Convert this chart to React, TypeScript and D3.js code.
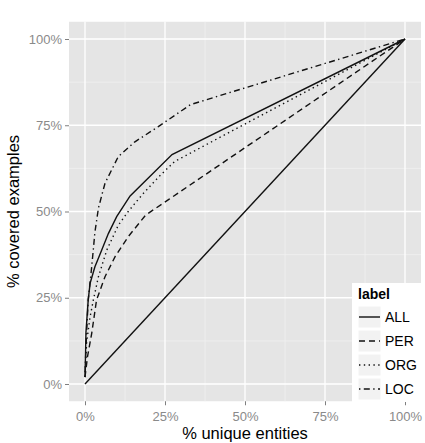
import * as React from 'react'
import { useEffect, useRef } from 'react'
import * as d3 from 'd3'

// series (x = share of unique entities, y = share of covered examples)
const labels = ['ALL', 'PER', 'ORG', 'LOC']

const allX = [0, 0.003, 0.01, 0.016, 0.031, 0.052, 0.073, 0.099, 0.141, 0.272, 1]
const allY = [0.02, 0.15, 0.243, 0.292, 0.34, 0.388, 0.436, 0.485, 0.545, 0.665, 1]

const perX = [0, 0.008, 0.021, 0.036, 0.0625, 0.094, 0.135, 0.19, 0.262, 1]
const perY = [0.02, 0.08, 0.147, 0.243, 0.311, 0.369, 0.427, 0.49, 0.535, 1]

const orgX = [0, 0.005, 0.016, 0.026, 0.042, 0.068, 0.104, 0.135, 0.18, 0.23, 0.28, 1]
const orgY = [0.02, 0.12, 0.195, 0.243, 0.311, 0.388, 0.46, 0.5, 0.55, 0.6, 0.645, 1]

const locX = [0, 0.002, 0.005, 0.01, 0.021, 0.031, 0.042, 0.0625, 0.104, 0.156, 0.229, 0.33, 1]
const locY = [0.02, 0.08, 0.147, 0.243, 0.34, 0.44, 0.51, 0.582, 0.659, 0.702, 0.746, 0.81, 1]

const diagX = [0, 1]
const diagY = [0, 1]

const tickValues = [0, 0.25, 0.5, 0.75, 1]

const FONT = 'Liberation Sans, Arial, sans-serif'

const App = () => {
    const chartRef = useRef<SVGSVGElement>(null)
    const width = 425
    const height = 443

    useEffect(() => {
        const svg = d3.select(chartRef.current)
        svg.selectAll('*').remove()

        const panel = { left: 69, right: 421, top: 21.75, bottom: 401.25 }

        const xScale = d3.scaleLinear().domain([-0.05, 1.05]).range([panel.left, panel.right])
        const yScale = d3.scaleLinear().domain([-0.05, 1.05]).range([panel.bottom, panel.top])

        svg.append('rect')
            .attr('x', panel.left)
            .attr('y', panel.top)
            .attr('width', panel.right - panel.left)
            .attr('height', panel.bottom - panel.top)
            .attr('fill', '#e5e5e5')

        const minor = [0.125, 0.375, 0.625, 0.875]
        minor.forEach(v => {
            svg.append('line')
                .attr('x1', xScale(v)).attr('x2', xScale(v))
                .attr('y1', panel.top).attr('y2', panel.bottom)
                .attr('stroke', '#f2f2f2').attr('stroke-width', 0.7)
            svg.append('line')
                .attr('y1', yScale(v)).attr('y2', yScale(v))
                .attr('x1', panel.left).attr('x2', panel.right)
                .attr('stroke', '#f2f2f2').attr('stroke-width', 0.7)
        })
        tickValues.forEach(v => {
            svg.append('line')
                .attr('x1', xScale(v)).attr('x2', xScale(v))
                .attr('y1', panel.top).attr('y2', panel.bottom)
                .attr('stroke', 'white').attr('stroke-width', 1.3)
            svg.append('line')
                .attr('y1', yScale(v)).attr('y2', yScale(v))
                .attr('x1', panel.left).attr('x2', panel.right)
                .attr('stroke', 'white').attr('stroke-width', 1.3)
        })

        const fmt = (d: number) => `${Math.round(d * 100)}%`

        const xAxis = svg.append('g')
            .attr('transform', `translate(0, ${panel.bottom})`)
            .call(d3.axisBottom(xScale).tickValues(tickValues).tickFormat(fmt as any).tickSize(4).tickPadding(7))
        xAxis.select('.domain').remove()
        xAxis.selectAll('line').attr('stroke', '#7f7f7f')
        xAxis.selectAll('text')
            .attr('fill', '#8a8a8a')
            .style('font-size', '13px')
            .style('font-family', FONT)

        const yAxis = svg.append('g')
            .attr('transform', `translate(${panel.left}, 0)`)
            .call(d3.axisLeft(yScale).tickValues(tickValues).tickFormat(fmt as any).tickSize(4).tickPadding(3))
        yAxis.select('.domain').remove()
        yAxis.selectAll('line').attr('stroke', '#7f7f7f')
        yAxis.selectAll('text')
            .attr('fill', '#8a8a8a')
            .style('font-size', '13px')
            .style('font-family', FONT)

        svg.append('text')
            .attr('x', (panel.left + panel.right) / 2)
            .attr('y', 439)
            .style('text-anchor', 'middle')
            .style('font-size', '16.5px')
            .style('font-family', FONT)
            .text('% unique entities')

        svg.append('text')
            .attr('transform', `translate(19, ${(panel.top + panel.bottom) / 2}) rotate(-90)`)
            .style('text-anchor', 'middle')
            .style('font-size', '16.5px')
            .style('font-family', FONT)
            .text('% covered examples')

        const dashes: { [k: string]: string | null } = {
            ALL: null,
            PER: '6,4',
            ORG: '1.4,3.4',
            LOC: '1.4,3.4,6,3.4'
        }
        const seriesData = [
            { label: 'ALL', xs: allX, ys: allY },
            { label: 'PER', xs: perX, ys: perY },
            { label: 'ORG', xs: orgX, ys: orgY },
            { label: 'LOC', xs: locX, ys: locY }
        ]

        const line = d3.line<[number, number]>()
            .x(d => xScale(d[0]))
            .y(d => yScale(d[1]))

        svg.append('path')
            .attr('d', line(diagX.map((x, i) => [x, diagY[i]] as [number, number])))
            .attr('fill', 'none')
            .attr('stroke', '#111')
            .attr('stroke-width', 1.4)

        seriesData.forEach(s => {
            svg.append('path')
                .attr('d', line(s.xs.map((x, i) => [x, s.ys[i]] as [number, number])))
                .attr('fill', 'none')
                .attr('stroke', '#111')
                .attr('stroke-width', 1.4)
                .attr('stroke-dasharray', dashes[s.label])
        })

        // legend
        const legend = svg.append('g').attr('transform', 'translate(352, 283)')
        legend.append('rect')
            .attr('width', 80).attr('height', 119)
            .attr('fill', 'white')
        legend.append('text')
            .attr('x', 6).attr('y', 16)
            .style('font-size', '14px')
            .style('font-weight', 'bold')
            .style('font-family', FONT)
            .text('label')

        labels.forEach((lab, i) => {
            const cy = 34 + i * 24
            legend.append('rect')
                .attr('x', 6).attr('y', cy - 11)
                .attr('width', 23).attr('height', 22)
                .attr('fill', '#f2f2f2')
                .attr('stroke', 'white')
            legend.append('line')
                .attr('x1', 7).attr('x2', 28)
                .attr('y1', cy).attr('y2', cy)
                .attr('stroke', '#111')
                .attr('stroke-width', 1.4)
                .attr('stroke-dasharray', dashes[lab])
            legend.append('text')
                .attr('x', 33).attr('y', cy + 5)
                .style('font-size', '14px')
                .style('font-family', FONT)
                .text(lab)
        })
    }, [])

    return (
        <svg ref={chartRef} width={width} height={height}
            style={{ position: 'absolute', left: 0, top: 0 }}></svg>
    )
}

export default App
